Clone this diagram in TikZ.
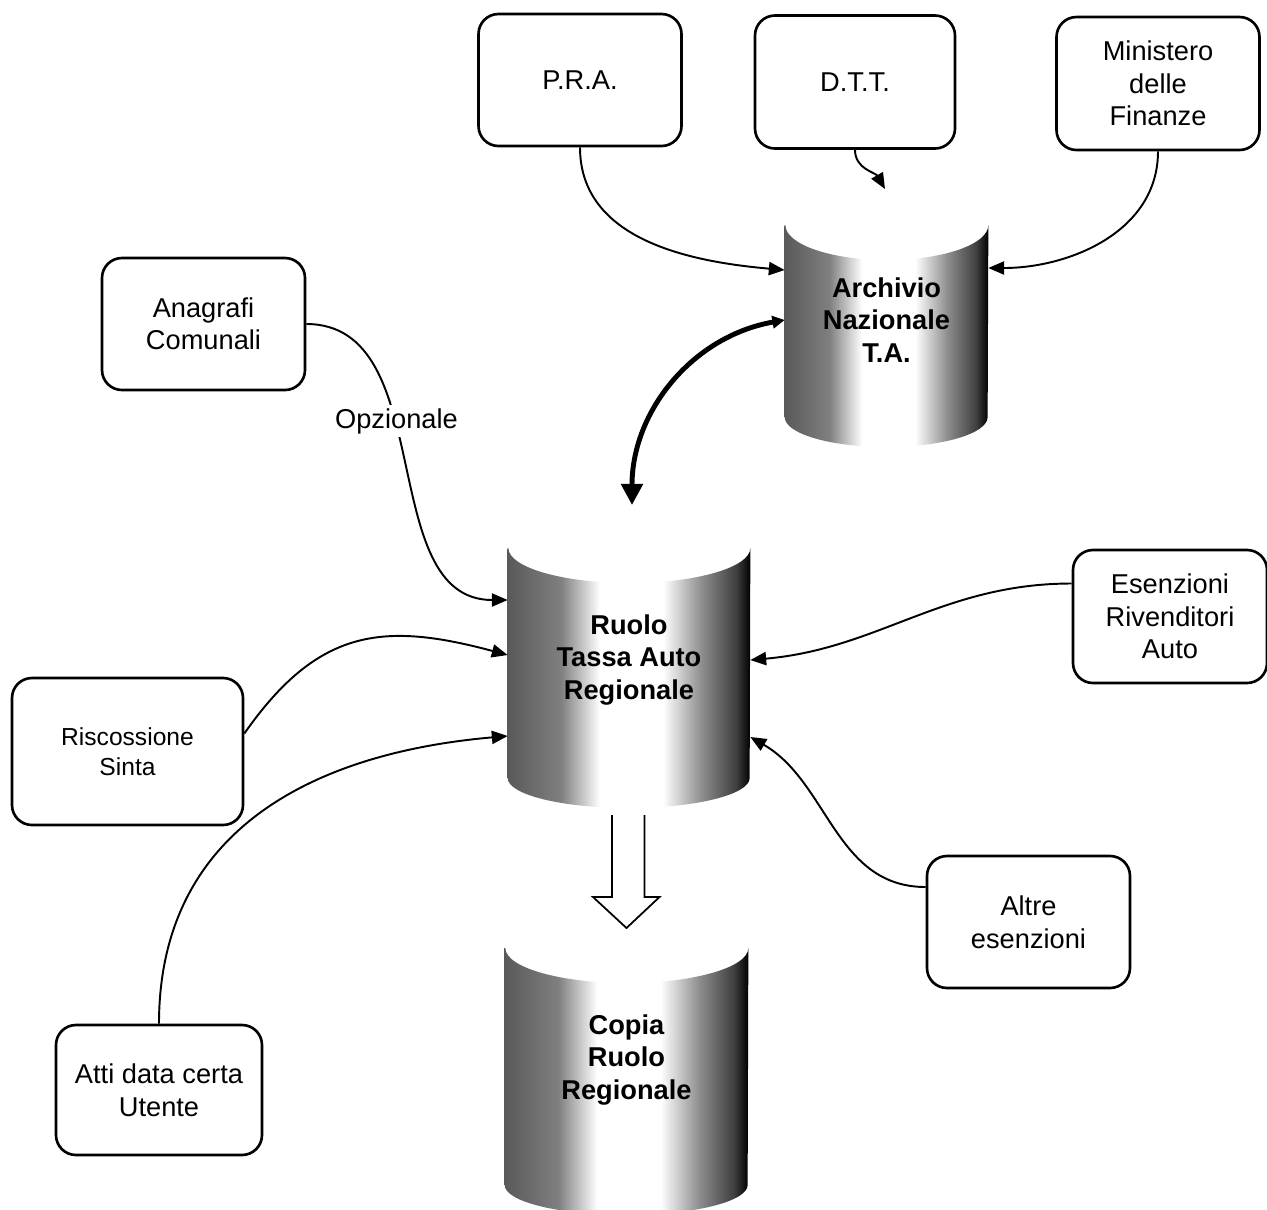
\documentclass[tikz,border=0pt]{standalone}
\usepackage{fontspec}
\setmainfont{Liberation Sans}
\usepackage{tikz}
\usetikzlibrary{arrows.meta}
\usetikzlibrary{backgrounds}
\usetikzlibrary{positioning}

% grey halftone of the archive cylinders (dark sides, light middle)
\pgfdeclarehorizontalshading{dbgray}{100bp}{color(0bp)=(black!65); color(25bp)=(black!65); color(36bp)=(black!50); color(44bp)=(white); color(57bp)=(white); color(65bp)=(black!45); color(72bp)=(black!75); color(75bp)=(black); color(100bp)=(black)}

\begin{document}
\begin{tikzpicture}[>={Triangle[length=9pt,width=7.5pt]},
  font=\fontsize{15.5}{18.5}\selectfont,
  ente/.style={draw, line width=1.5pt, rounded corners=0.4cm, align=center,
    minimum width=4.06cm, minimum height=2.64cm},
  db/.style={font=\fontsize{15.5}{18.5}\selectfont\bfseries, align=center, inner sep=0pt},
  flow/.style={->, line width=1.1pt},
  hollow/.style={line width=1pt}]
  \useasboundingbox (0,0) rectangle (25.34,-24.18);

  % ===== Sources =====
  \node[ente] (pra) at (11.6,-1.6) {P.R.A.};
  \node[ente, minimum width=4.0cm, minimum height=2.66cm] (dtt) at (17.1,-1.64) {D.T.T.};
  \node[ente, minimum height=2.66cm] (mef) at (23.16,-1.67) {Ministero\\delle\\Finanze};
  \node[ente] (anagrafi) at (4.07,-6.48) {Anagrafi\\Comunali};
  \node[ente, minimum width=4.62cm, minimum height=2.94cm,
    font=\fontsize{14}{17}\selectfont] (riscossione) at (2.55,-15.03) {Riscossione\\Sinta};
  \node[ente, minimum width=4.12cm, minimum height=2.6cm] (atti) at (3.18,-21.8) {Atti data certa\\Utente};
  \node[ente, minimum width=3.88cm, minimum height=2.66cm] (esenzioni) at (23.4,-12.33) {Esenzioni\\Rivenditori\\Auto};
  \node[ente] (altre) at (20.57,-18.44) {Altre\\esenzioni};

  % ===== Archives =====
  \node[db, minimum width=4.06cm] (archivio) at (17.73,-6.4) {Archivio\\Nazionale\\T.A.};
  \node[db, minimum width=4.84cm] (ruolo) at (12.58,-13.2) {Ruolo\\Tassa Auto\\Regionale};
  \node[db, minimum width=4.86cm] (copia) at (12.53,-21.2) {Copia\\Ruolo\\Regionale};

  % cylinder bodies behind the text
  \begin{scope}[on background layer]
    \foreach \nm/\rx/\tp/\bt in {archivio/2.03/1.9/1.94, ruolo/2.42/2.24/2.36, copia/2.43/2.24/2.5}
      \shade[shading=dbgray] ([yshift=\tp cm]\nm.west) -- ([yshift=-\bt cm]\nm.west)
        arc[start angle=180, end angle=360, x radius=\rx cm, y radius=0.6cm]
        -- ([yshift=\tp cm]\nm.east)
        arc[start angle=0, end angle=-180, x radius=\rx cm, y radius=0.7cm] -- cycle;
  \end{scope}

  \coordinate (dttend) at (17.7,-3.78);
  \coordinate (ruolotop) at (12.64,-10.1);

  % ===== Flows into the national archive =====
  \draw[flow] (pra.south) to[out=-90, in=175] ([yshift=1.0cm]archivio.west);
  \draw[flow] (dtt.south) to[out=-90, in=120] (dttend);
  \draw[flow] (mef.south) to[out=-90, in=0] ([yshift=1.04cm]archivio.east);
  \draw[{Triangle[length=7pt,width=7pt]}-{Triangle[length=12pt,width=12pt]}, line width=2.8pt]
    (archivio.west) to[out=190, in=90] (ruolotop);

  % ===== Flows into the regional roll =====
  \draw[flow] (anagrafi.east) to[out=0, in=180]
    node[pos=0.4, fill=white, inner sep=2pt] (opz) {Opzionale} ([yshift=1.2cm]ruolo.west);
  \draw[flow] ([yshift=0.36cm]riscossione.east) to[out=55, in=165, looseness=1.2] ([yshift=0.1cm]ruolo.west);
  \draw[flow] (atti.north) to[out=90, in=185, looseness=1.1] ([yshift=-1.52cm]ruolo.west);
  \draw[flow] ([yshift=0.66cm]esenzioni.west) to[out=180, in=5] (ruolo.east);
  \draw[flow] ([yshift=0.7cm]altre.west) to[out=180, in=-30] ([yshift=-1.54cm]ruolo.east);

  % hollow arrow: roll copied
  \draw[hollow] ([xshift=-0.34cm, yshift=-3.1cm]ruolo.center) -- ++(0,-1.64) -- ++(-0.38,0)
    -- ([yshift=2.64cm]copia.center) -- ++(0.66,0.62) -- ++(-0.3,0) -- ++(0,1.64);
\end{tikzpicture}
\end{document}
